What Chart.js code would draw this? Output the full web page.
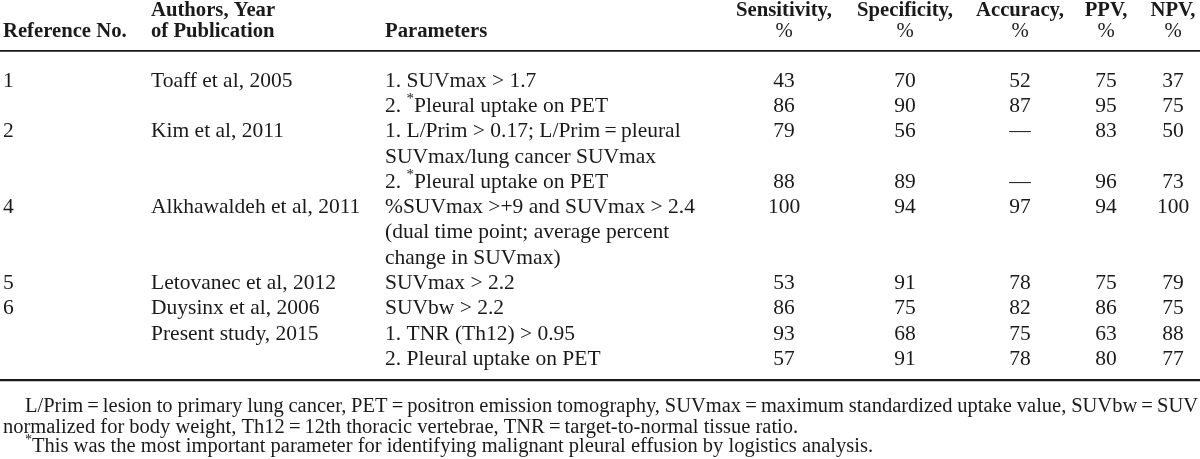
<!DOCTYPE html>
<html>
<head>
<meta charset="utf-8">
<title>PET parameters for malignant pleural effusion</title>
<script src="https://cdn.jsdelivr.net/npm/chart.js@4.4.1/dist/chart.umd.min.js"></script>
<style>
html,body{margin:0;padding:0;background:#fff}
#wrap{width:1200px;height:459px;position:relative}
</style>
</head>
<body>
<div id="wrap"><canvas id="tbl"></canvas></div>
<script>
/* Table drawn on a Chart.js scatter: each cell is a point, its text painted by a plugin */

// ---- data, one entry per criterion ----
const refNos = ['1', '', '2', '', '4', '5', '6', '', ''];
const authors = ['Toaff et al, 2005', '', 'Kim et al, 2011', '', 'Alkhawaldeh et al, 2011',
  'Letovanec et al, 2012', 'Duysinx et al, 2006', 'Present study, 2015', ''];
const parameters = [
  ['1. SUVmax > 1.7'],
  ['2. *Pleural uptake on PET'],
  ['1. L/Prim > 0.17; L/Prim\u2009=\u2009pleural', 'SUVmax/lung cancer SUVmax'],
  ['2. *Pleural uptake on PET'],
  ['%SUVmax >+9 and SUVmax > 2.4', '(dual time point; average percent', 'change in SUVmax)'],
  ['SUVmax > 2.2'],
  ['SUVbw > 2.2'],
  ['1. TNR (Th12) > 0.95'],
  ['2. Pleural uptake on PET']
];
const sensitivity = [43, 86, 79, 88, 100, 53, 86, 93, 57];
const specificity = [70, 90, 56, 89, 94, 91, 75, 68, 91];
const accuracy    = [52, 87, null, null, 97, 78, 82, 75, 78];
const ppv         = [75, 95, 83, 96, 94, 75, 86, 63, 80];
const npv         = [37, 75, 50, 73, 100, 79, 75, 88, 77];

const headerTop    = ['', 'Authors, Year', '', 'Sensitivity,', 'Specificity,', 'Accuracy,', 'PPV,', 'NPV,'];
const headerBottom = ['Reference No.', 'of Publication', 'Parameters', '%', '%', '%', '%', '%'];
const footnotes = [
  'L/Prim\u2009=\u2009lesion to primary lung cancer, PET\u2009=\u2009positron emission tomography, SUVmax\u2009=\u2009maximum standardized uptake value, SUVbw\u2009=\u2009SUV',
  'normalized for body weight, Th12\u2009=\u200912th thoracic vertebrae, TNR\u2009=\u2009target-to-normal tissue ratio.',
  '*This was the most important parameter for identifying malignant pleural effusion by logistics analysis.'
];

// ---- layout ----
const FONT = '"Liberation Serif", "Times New Roman", serif';
const BODY = 21.5, HEAD = 20.7, FOOT = 20.5;
const INK = '#1a1a1a';
const colX = [3, 151, 385, 784, 905, 1020, 1106, 1173];
const ROW0 = 81, STEP = 25.3;            // px centre of first body line, line pitch
const headerRows = [-2.8, -1.94];        // in line units
const ruleRows = [{y: -1.19, w: 1.8}, {y: 11.82, w: 2.2}];
const footRows = [12.88, 13.69, 14.46];
const footX = [25, 3, 25];

// line index where each criterion starts
const lineStart = [];
parameters.reduce((n, p, i) => { lineStart[i] = n; return n + p.length; }, 0);

function textSet(col, labels, rows, align){
  return {
    data: rows.map(r => ({x: colX[col], y: r})),
    labels, align, pointRadius: 0, showLine: false
  };
}

const paramLabels = parameters.flat();
const paramRows = parameters.flatMap((p, i) => p.map((_, k) => lineStart[i] + k));
const numCols = [sensitivity, specificity, accuracy, ppv, npv];

const datasets = [
  textSet(0, refNos, lineStart, 'left'),
  textSet(1, authors, lineStart, 'left'),
  textSet(2, paramLabels, paramRows, 'left'),
  ...numCols.map((vals, k) => textSet(3 + k, vals.map(v => v == null ? '\u2014' : String(v)), lineStart, 'center'))
];

// '*' is drawn as a raised, smaller asterisk
function drawRich(ctx, text, x, y, align, size, bold){
  const base = (bold ? 'bold ' : '') + size + 'px ' + FONT;
  const sup = Math.round(size * 0.68) + 'px ' + FONT;
  const parts = text.split(/(\*)/).filter(s => s !== '');
  const widths = parts.map(s => { ctx.font = s === '*' ? sup : base; return ctx.measureText(s).width; });
  const total = widths.reduce((a, b) => a + b, 0);
  let cx = align === 'center' ? x - total / 2 : x;
  ctx.textAlign = 'left';
  parts.forEach((s, i) => {
    ctx.font = s === '*' ? sup : base;
    ctx.fillText(s, cx, s === '*' ? y - size * 0.33 : y);
    cx += widths[i];
  });
}

function drawJustified(ctx, text, x0, x1, y, size){
  ctx.font = size + 'px ' + FONT;
  const words = text.split(' ');
  const ws = words.map(w => ctx.measureText(w).width);
  const gap = (x1 - x0 - ws.reduce((a, b) => a + b, 0)) / (words.length - 1);
  let cx = x0;
  ctx.textAlign = 'left';
  words.forEach((w, i) => { ctx.fillText(w, cx, y); cx += ws[i] + gap; });
}

const tablePlugin = {
  id: 'tableText',
  afterDatasetsDraw(chart){
    const {ctx, scales: {x, y}, chartArea} = chart;
    ctx.save();
    ctx.fillStyle = INK;
    ctx.textBaseline = 'middle';

    // header
    headerTop.forEach((t, c) => t && drawRich(ctx, t, x.getPixelForValue(colX[c]), y.getPixelForValue(headerRows[0]), c < 3 ? 'left' : 'center', HEAD, true));
    headerBottom.forEach((t, c) => drawRich(ctx, t, x.getPixelForValue(colX[c]), y.getPixelForValue(headerRows[1]), c < 3 ? 'left' : 'center', HEAD, t !== '%'));

    // cells
    chart.data.datasets.forEach((ds, i) => {
      chart.getDatasetMeta(i).data.forEach((pt, j) => {
        const t = ds.labels[j];
        if (t) drawRich(ctx, t, pt.x, pt.y, ds.align, BODY, false);
      });
    });

    // rules
    ctx.strokeStyle = INK;
    ruleRows.forEach(r => {
      const py = y.getPixelForValue(r.y);
      ctx.lineWidth = r.w;
      ctx.beginPath(); ctx.moveTo(chartArea.left, py); ctx.lineTo(chartArea.right, py); ctx.stroke();
    });

    // footnotes
    drawJustified(ctx, footnotes[0], footX[0], 1198, y.getPixelForValue(footRows[0]), FOOT);
    drawRich(ctx, footnotes[1], footX[1], y.getPixelForValue(footRows[1]), 'left', FOOT, false);
    drawRich(ctx, footnotes[2], footX[2], y.getPixelForValue(footRows[2]), 'left', FOOT, false);
    ctx.restore();
  }
};

new Chart(document.getElementById('tbl'), {
  type: 'scatter',
  data: {datasets},
  options: {
    responsive: true,
    maintainAspectRatio: false,
    animation: false,
    events: [],
    layout: {padding: 0},
    plugins: {legend: {display: false}, tooltip: {enabled: false}},
    scales: {
      x: {type: 'linear', display: false, min: 0, max: 1200},
      y: {type: 'linear', display: false, reverse: true, min: -ROW0 / STEP, max: (459 - ROW0) / STEP}
    }
  },
  plugins: [tablePlugin]
});
</script>
</body>
</html>
